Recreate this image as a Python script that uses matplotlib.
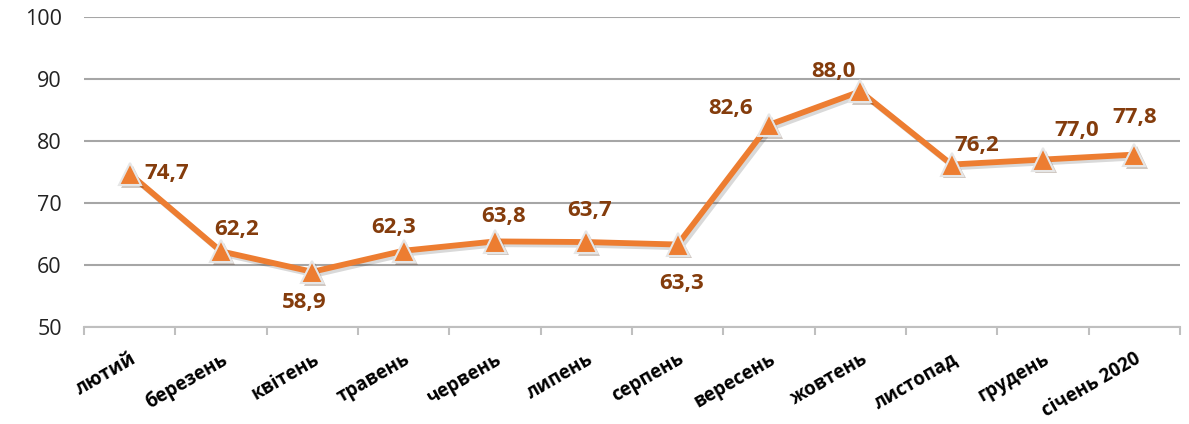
import matplotlib.pyplot as plt
import matplotlib.patheffects as pe
import numpy as np

plt.rcParams['font.family'] = ['Open Sans', 'DejaVu Sans']

months = ['лютий', 'березень', 'квітень', 'травень', 'червень', 'липень',
          'серпень', 'вересень', 'жовтень', 'листопад', 'грудень', 'січень 2020']
values = [74.7, 62.2, 58.9, 62.3, 63.8, 63.7, 63.3, 82.6, 88.0, 76.2, 77.0, 77.8]
labels = ['74,7', '62,2', '58,9', '62,3', '63,8', '63,7', '63,3', '82,6', '88,0', '76,2', '77,0', '77,8']
# label offsets in points (dx, dy)
offs = [(27, 0), (11, 16), (-6, -22), (-7, 17), (6, 18), (2, 23),
        (3, -28), (-28, 12), (-19, 14), (18, 14), (24, 21), (0, 27)]

orange = '#ED7D31'
brown = '#843C0C'

fig = plt.figure(figsize=(11.89, 4.24), dpi=100)
ax = fig.add_axes([0.0707, 0.2288, 0.9217, 0.7312])

x = np.arange(len(months))
ax.plot(x, values, color=orange, lw=4.2, zorder=3,
        path_effects=[pe.SimpleLineShadow(offset=(2, -2), alpha=0.15), pe.Normal()])
ax.plot(x, values, ls='none', marker='^', ms=16, mfc=orange, mec='#E6E6E6', mew=1.5,
        zorder=4, path_effects=[pe.SimplePatchShadow(offset=(2, -2), alpha=0.25), pe.Normal()])

for xi, v, t, (dx, dy) in zip(x, values, labels, offs):
    ax.annotate(t, (xi, v), xytext=(dx, dy), textcoords='offset points',
                ha='center', va='center', fontsize=16, fontweight='bold', color=brown, zorder=5)

ax.set_xlim(-0.5, len(months) - 0.5)
ax.set_ylim(50, 100)
ax.set_yticks(range(50, 101, 10))
ax.yaxis.grid(True, color='#A6A6A6', lw=1.5)
ax.set_axisbelow(True)
for s in ['left', 'right', 'top']:
    ax.spines[s].set_visible(False)
ax.spines['bottom'].set_color('#BFBFBF')
ax.spines['bottom'].set_linewidth(1.5)
ax.tick_params(axis='y', length=0, pad=16, labelsize=15.5, labelcolor='#222222')

ax.set_xticks(x)
ax.set_xticklabels(months, rotation=30, ha='right', rotation_mode='anchor',
                   fontsize=13.5, fontweight='bold')
ax.tick_params(axis='x', which='major', length=0, pad=16)
ax.set_xticks(np.arange(-0.5, len(months)), minor=True)
ax.tick_params(axis='x', which='minor', length=6, width=1.5, color='#BFBFBF')

fig.savefig('out.png', dpi=100)
